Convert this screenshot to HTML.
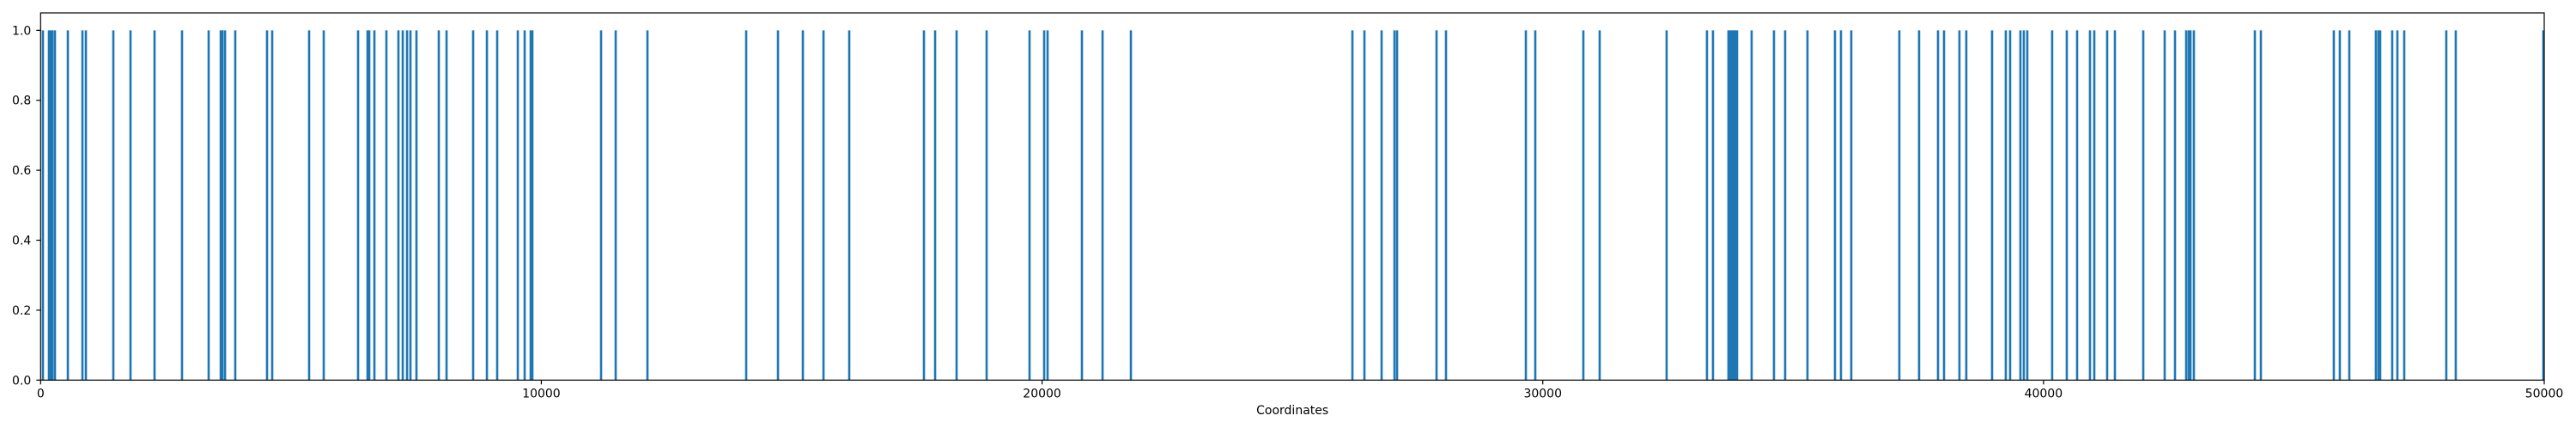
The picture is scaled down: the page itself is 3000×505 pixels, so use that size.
<!DOCTYPE html>
<html><head><meta charset="utf-8"><style>
html,body{margin:0;padding:0;background:#fff;}
svg text{font-family:"DejaVu Sans","Liberation Sans",sans-serif;font-size:14px;fill:#000;}
</style></head>
<body>
<svg id="chart" width="3000" height="500" xmlns="http://www.w3.org/2000/svg">
<rect width="3000" height="500" fill="#fff"/>
<g id="bars"></g>
<g id="axes"></g>
</svg>
<script>
const positions = [46,166,201,235,286,544,835,904,1452,1795,2275,2824,3356,3597,3631,3683,3887,4522,4625,5362,5654,6340,6529,6563,6666,6906,7146,7232,7318,7386,7506,7952,8107,8638,8913,9118,9530,9667,9787,9821,11193,11485,12119,14091,14726,15223,15635,16149,17641,17864,18293,18893,19750,20042,20110,20796,21208,21774,26198,26438,26781,27038,27090,27878,28067,29662,29850,30810,31136,32473,33279,33399,33708,33743,33777,33811,33846,33880,34171,34617,34840,35286,35835,35955,36161,37121,37515,37893,38013,38321,38458,38973,39247,39333,39539,39607,39676,40173,40465,40671,40928,41014,41271,41426,41992,42420,42626,42849,42900,42935,43003,44221,44341,45798,45918,46107,46638,46690,46724,46964,47067,47204,48044,48233,49982];
const heights = positions.map(() => 1);
const xTicks = [0,10000,20000,30000,40000,50000];
const yTicks = [0,0.2,0.4,0.6,0.8,1.0];
const yTickLabels = ["0.0","0.2","0.4","0.6","0.8","1.0"];

const L=47.3, R=2963, T=15, B=442.3, XMAX=50000, YMAX=1.05, BARW=45;
const xs = v => L + (v/XMAX)*(R-L);
const ys = v => B - (v/YMAX)*(B-T);
const NS="http://www.w3.org/2000/svg";
const bars=document.getElementById('bars'), axes=document.getElementById('axes');
function mk(tag, attrs, parent){const e=document.createElementNS(NS,tag);for(const k in attrs)e.setAttribute(k,attrs[k]);parent.appendChild(e);return e;}

const clip=mk('clipPath',{id:'pc'},document.getElementById('chart'));
mk('rect',{x:L,y:T,width:R-L,height:B-T},clip);
bars.setAttribute('clip-path','url(#pc)');
positions.forEach((p,i)=>{
  const x0=xs(p-BARW/2), x1=xs(p+BARW/2);
  const r=mk('rect',{x:x0,y:ys(heights[i]),width:x1-x0,height:B-ys(heights[i]),fill:'#1f77b4'},bars);
  
  
});
const frame=mk('rect',{x:L,y:T,width:R-L,height:B-T,fill:'none',stroke:'#000','stroke-width':1.2},axes);


xTicks.forEach(t=>{
  const x=xs(t);
  mk('line',{x1:x,x2:x,y1:B,y2:B+5,stroke:'#000','stroke-width':1.2},axes);
  const tx=mk('text',{x:x,y:B+20,'text-anchor':'middle'},axes);
  tx.textContent=String(t);
  
  
});
yTicks.forEach((t,i)=>{
  const y=ys(t);
  mk('line',{x1:L-5,x2:L,y1:y,y2:y,stroke:'#000','stroke-width':1.2},axes);
  const tx=mk('text',{x:L-11,y:y+5,'text-anchor':'end'},axes);
  tx.textContent=yTickLabels[i];
  
  
});
const xl=mk('text',{x:(L+R)/2,y:482,'text-anchor':'middle'},axes);
xl.textContent='Coordinates';


</script>
</body></html>
